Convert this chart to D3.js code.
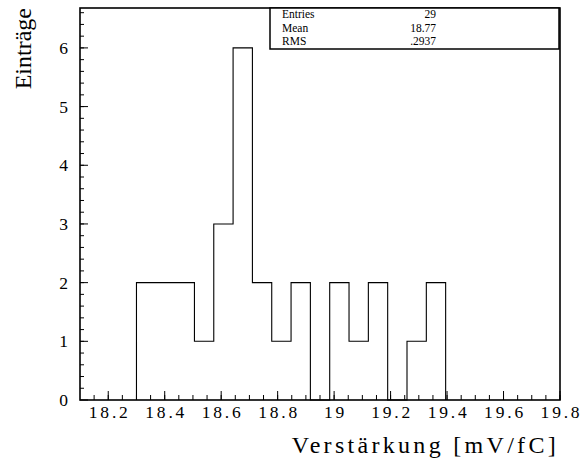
<!DOCTYPE html>
<html>
<head>
<meta charset="utf-8">
<script src="https://cdn.jsdelivr.net/npm/d3@7"></script>
<style>
  html, body { margin: 0; padding: 0; background: #fff; }
  svg { display: block; }
</style>
</head>
<body>
<script>
// Gain distribution histogram: 16 equal-width bins
const binLow = 18.30;
const binHigh = 19.395;
const binCounts = [2, 2, 2, 1, 3, 6, 2, 1, 2, 0, 2, 1, 2, 0, 1, 2];

// Axis labelling
const xTickValues = [18.2, 18.4, 18.6, 18.8, 19.0, 19.2, 19.4, 19.6, 19.8];
const xTickLabels = ["18.2", "18.4", "18.6", "18.8", "19", "19.2", "19.4", "19.6", "19.8"];
const yTickValues = [0, 1, 2, 3, 4, 5, 6];
const xTitle = "Verstärkung [mV/fC]";
const yTitle = "Einträge";

// Statistics box
const statNames = ["Entries", "Mean", "RMS"];
const statValues = ["29", "18.77", ".2937"];

const W = 582, H = 461;
const frame = { left: 80, right: 560, top: 8, bottom: 400 };

const svg = d3.select("body").append("svg")
  .attr("width", W).attr("height", H)
  .attr("font-family", "'Liberation Serif', Tinos, 'Times New Roman', serif");

const x = d3.scaleLinear().domain([18.1, 19.8]).range([frame.left, frame.right]);
const y = d3.scaleLinear().domain([0, 6.68]).range([frame.bottom, frame.top]);

// Bin edges and step outline (closed down to zero at both ends)
const nBins = binCounts.length;
const binW = (binHigh - binLow) / nBins;
const pts = [[binLow, 0]];
binCounts.forEach((c, i) => {
  pts.push([binLow + i * binW, c]);
  pts.push([binLow + (i + 1) * binW, c]);
});
pts.push([binHigh, 0]);

svg.append("path")
  .attr("d", d3.line().x(d => x(d[0])).y(d => y(d[1]))(pts))
  .attr("fill", "none")
  .attr("stroke", "#000")
  .attr("stroke-width", 1.1);

// Frame
svg.append("rect")
  .attr("x", frame.left).attr("y", frame.top)
  .attr("width", frame.right - frame.left)
  .attr("height", frame.bottom - frame.top)
  .attr("fill", "none").attr("stroke", "#000").attr("stroke-width", 1.6);

// X axis ticks (inward, pointing up) with minor ticks every 0.05
const xMinor = d3.range(18.15, 19.8001, 0.05).filter(v => v > 18.1 && v < 19.8);
svg.append("g").selectAll("line").data(xMinor).join("line")
  .attr("x1", d => x(d)).attr("x2", d => x(d))
  .attr("y1", frame.bottom).attr("y2", frame.bottom - 5)
  .attr("stroke", "#000").attr("stroke-width", 1);
svg.append("g").selectAll("line").data(xTickValues).join("line")
  .attr("x1", d => x(d)).attr("x2", d => x(d))
  .attr("y1", frame.bottom).attr("y2", frame.bottom - 9)
  .attr("stroke", "#000").attr("stroke-width", 1);
svg.append("g").selectAll("text").data(xTickValues).join("text")
  .attr("x", d => x(d) + 1.5).attr("y", 418)
  .attr("text-anchor", "middle")
  .attr("font-size", 17.5)
  .attr("letter-spacing", "2.8px")
  .text((d, i) => xTickLabels[i]);

// Y axis ticks (inward, pointing right) with minor ticks every 0.2
const yMinor = d3.range(0.2, 6.68, 0.2);
svg.append("g").selectAll("line").data(yMinor).join("line")
  .attr("x1", frame.left).attr("x2", frame.left + 4)
  .attr("y1", d => y(d)).attr("y2", d => y(d))
  .attr("stroke", "#000").attr("stroke-width", 1);
svg.append("g").selectAll("line").data(yTickValues).join("line")
  .attr("x1", frame.left).attr("x2", frame.left + 8)
  .attr("y1", d => y(d)).attr("y2", d => y(d))
  .attr("stroke", "#000").attr("stroke-width", 1);
svg.append("g").selectAll("text").data(yTickValues).join("text")
  .attr("x", 68).attr("y", d => y(d) + 6)
  .attr("text-anchor", "end")
  .attr("font-size", 17.5)
  .text(d => d);

// Axis titles
svg.append("text")
  .attr("x", 559).attr("y", 453)
  .attr("text-anchor", "end")
  .attr("font-size", 24)
  .attr("letter-spacing", "3.3px")
  .text(xTitle);

svg.append("text")
  .attr("transform", "translate(31,8) rotate(-90)")
  .attr("text-anchor", "end")
  .attr("font-size", 24)
  .text(yTitle);

// Statistics box
const box = { x: 270, y: 8, w: 289, h: 41 };
svg.append("rect")
  .attr("x", box.x).attr("y", box.y).attr("width", box.w).attr("height", box.h)
  .attr("fill", "#fff").attr("stroke", "#000").attr("stroke-width", 1.5);
const sg = svg.append("g").attr("font-size", 11.5);
statNames.forEach((n, i) => {
  sg.append("text").attr("x", 282).attr("y", 18 + i * 13.5).text(n);
  sg.append("text").attr("x", 436).attr("y", 18 + i * 13.5)
    .attr("text-anchor", "end").text(statValues[i]);
});
</script>
</body>
</html>
